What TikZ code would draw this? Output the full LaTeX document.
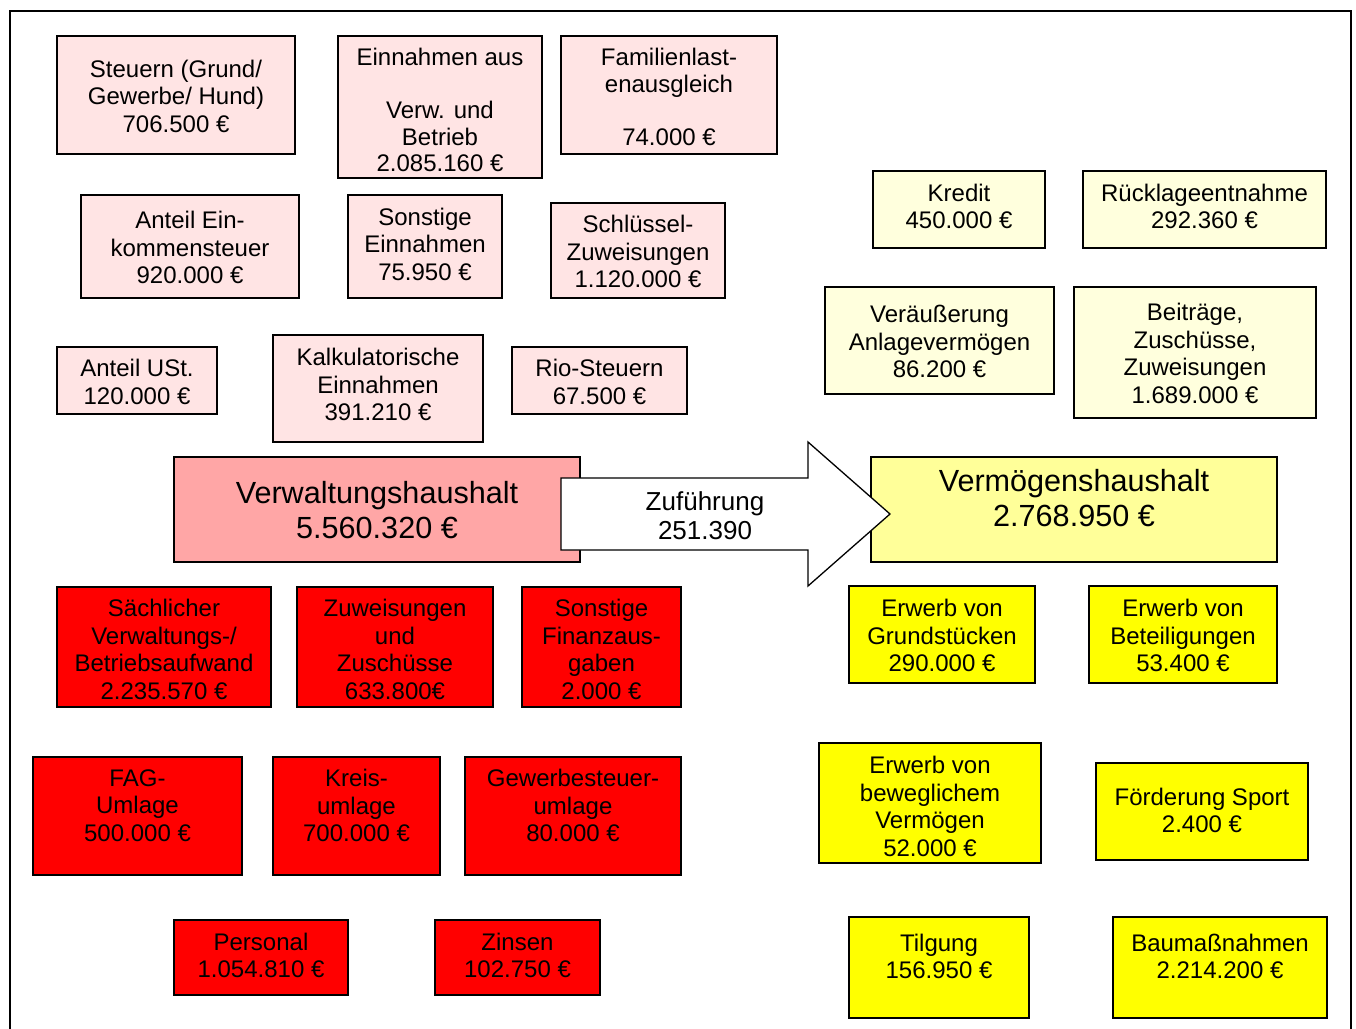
\documentclass[tikz,border=0pt]{standalone}
\usepackage{fontspec}
\setmainfont{Liberation Sans}
\definecolor{pinkL}{HTML}{FFE4E4}
\definecolor{pinkM}{HTML}{FFA6A6}
\definecolor{yelM}{HTML}{FFFF99}
\definecolor{yelL}{HTML}{FFFFDD}
\definecolor{redF}{HTML}{FF0000}
\definecolor{yelF}{HTML}{FFFF00}
\tikzset{
  bxbase/.style={draw=black, line width=1.3pt, rectangle, inner sep=0pt},
  pinkbox/.style={bxbase, fill=pinkL},
  mainred/.style={bxbase, fill=pinkM},
  mainyel/.style={bxbase, fill=yelM},
  lyelbox/.style={bxbase, fill=yelL},
  redbox/.style={bxbase, fill=redF},
  yelbox/.style={bxbase, fill=yelF},
  txt/.style={align=center, inner sep=0pt, font=\fontsize{24}{27.5}\selectfont},
  txttight/.style={align=center, inner sep=0pt, font=\fontsize{24}{26.5}\selectfont},
  arrtxt/.style={align=center, inner sep=0pt, font=\fontsize{26}{29.5}\selectfont},
  bigtxt/.style={align=center, inner sep=0pt, font=\fontsize{30.6}{35}\selectfont},
}
\newcommand\bx[8]{%
  \node[#2, minimum width={#5-#3}, minimum height={#6-#4}] (#1) at ({(#3+#5)/2},{(#4+#6)/2}) {};
  \node[txt] (#1-t) at ({(#3+#5)/2},#7) {#8};}
\begin{document}
\begin{tikzpicture}[x=1pt,y=-1pt]
\useasboundingbox (0,0) rectangle (1356,1028);
\fill[white] (0,0) rectangle (1356,1028);
\draw[line width=2pt] (10,1030) -- (10,11) -- (1351,11) -- (1351,1030);
% pink income boxes
\bx{steuern}{pinkbox}{57}{36}{295}{154}{96}{Steuern (Grund/\\Gewerbe/ Hund)\\706.500 €}
\node[pinkbox, minimum width=204, minimum height=142] (einn) at (440,107) {};
\node[txttight] (einn-t) at (440,110) {Einnahmen aus\\\strut\\Verw. und\\Betrieb\\2.085.160 €};
\node[pinkbox, minimum width=216, minimum height=118] (famil) at (669,95) {};
\node[txttight] (famil-t) at (669,96.75) {Familienlast-\\enausgleich\\\strut\\74.000 €};
\bx{anteilein}{pinkbox}{81}{195}{299}{298}{247.5}{Anteil Ein-\\kommensteuer\\920.000 €}
\bx{sonstein}{pinkbox}{348}{195}{502}{298}{244}{Sonstige\\Einnahmen\\75.950 €}
\bx{schluessel}{pinkbox}{551}{203}{725}{298}{251.5}{Schlüssel-\\Zuweisungen\\1.120.000 €}
\bx{ust}{pinkbox}{57}{347}{217}{414}{382}{Anteil USt.\\120.000 €}
\bx{kalk}{pinkbox}{273}{335}{483}{442}{384.5}{Kalkulatorische\\Einnahmen\\391.210 €}
\bx{rio}{pinkbox}{512}{347}{687}{414}{382}{Rio-Steuern\\67.500 €}
% main boxes
\node[mainred, minimum width=406, minimum height=105] (vw) at (377,509.5) {};
\node[bigtxt] (vw-t) at (377,510) {Verwaltungshaushalt\\5.560.320 €};
\node[mainyel, minimum width=406, minimum height=105] (vm) at (1074,509.5) {};
\node[bigtxt] (vm-t) at (1074,498.5) {Vermögenshaushalt\\2.768.950 €};
% arrow
\draw[line width=1.3pt, fill=white] (561,478) -- (808,478) -- (808,442) -- (890,514) -- (808,586) -- (808,550) -- (561,550) -- cycle;
\node[arrtxt] (zuf) at (705,515.5) {Zuführung\\251.390};
% red expense boxes
\bx{saech}{redbox}{57}{587}{271}{707}{649.5}{Sächlicher\\Verwaltungs-/\\Betriebsaufwand\\2.235.570 €}
\bx{zuw}{redbox}{297}{587}{493}{707}{649.5}{Zuweisungen\\und\\Zuschüsse\\633.800€}
\bx{sfin}{redbox}{522}{587}{681}{707}{649.5}{Sonstige\\Finanzaus-\\gaben\\2.000 €}
\bx{fag}{redbox}{33}{757}{242}{875}{805.5}{FAG-\\Umlage\\500.000 €}
\bx{kreis}{redbox}{273}{757}{440}{875}{805.5}{Kreis-\\umlage\\700.000 €}
\bx{gew}{redbox}{465}{757}{681}{875}{805.5}{Gewerbesteuer-\\umlage\\80.000 €}
\bx{pers}{redbox}{174}{920}{348}{995}{955.5}{Personal\\1.054.810 €}
\bx{zins}{redbox}{435}{920}{600}{995}{955.5}{Zinsen\\102.750 €}
% light yellow income boxes
\bx{kredit}{lyelbox}{873}{171}{1045}{248}{206.5}{Kredit\\450.000 €}
\bx{rueck}{lyelbox}{1083}{171}{1326}{248}{206.5}{Rücklageentnahme\\292.360 €}
\bx{veraeu}{lyelbox}{825}{287}{1054}{394}{341.5}{Veräußerung\\Anlagevermögen\\86.200 €}
\bx{beitr}{lyelbox}{1074}{287}{1316}{418}{353.5}{Beiträge,\\Zuschüsse,\\Zuweisungen\\1.689.000 €}
% yellow expense boxes
\bx{grund}{yelbox}{849}{586}{1035}{683}{635.5}{Erwerb von\\Grundstücken\\290.000 €}
\bx{beteil}{yelbox}{1089}{586}{1277}{683}{635.5}{Erwerb von\\Beteiligungen\\53.400 €}
\bx{bewegl}{yelbox}{819}{743}{1041}{863}{806.5}{Erwerb von\\beweglichem\\Vermögen\\52.000 €}
\bx{sport}{yelbox}{1096}{763}{1308}{860}{810.5}{Förderung Sport\\2.400 €}
\bx{tilg}{yelbox}{849}{917}{1029}{1018}{956.5}{Tilgung\\156.950 €}
\bx{bau}{yelbox}{1113}{917}{1327}{1018}{956.5}{Baumaßnahmen\\2.214.200 €}
\end{tikzpicture}
\end{document}
